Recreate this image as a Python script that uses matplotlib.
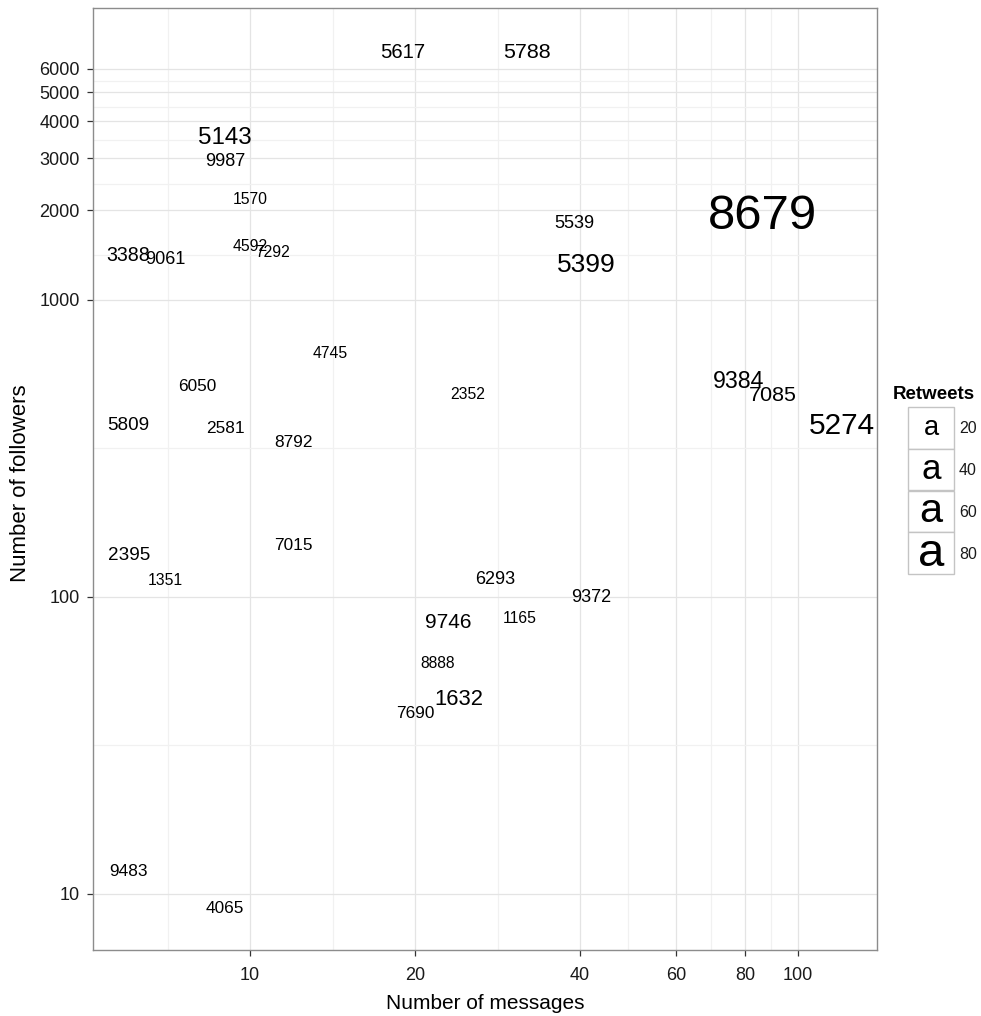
import numpy as np
import matplotlib
matplotlib.use('Agg')
import matplotlib.pyplot as plt
from matplotlib.patches import Rectangle
from matplotlib.ticker import NullFormatter, FixedFormatter, FixedLocator

# ---------------- data ----------------
labels = ['5617', '5788', '5143', '9987', '1570', '3388', '9061', '4592', '7292', '5539',
          '5399', '8679', '4745', '6050', '5809', '2581', '8792', '2352', '2395', '7015',
          '1351', '9746', '9384', '7085', '5274', '6293', '9372', '1165', '8888', '1632',
          '7690', '9483', '4065']
messages = [19, 32, 9, 9, 10, 6, 7, 10, 11, 39,
            41, 86, 14, 8, 6, 9, 12, 25, 6, 12,
            7, 23, 78, 90, 120, 28, 42, 31, 22, 24,
            20, 6, 9]
followers = [6890, 6900, 3568, 2971, 2199, 1429, 1388, 1521, 1452, 1830,
             1338, 1981, 668, 517, 383, 373, 335, 483, 140, 151,
             114, 83, 539, 483, 383, 116, 101, 85, 60, 46,
             41, 12, 9]
retweets = [6, 8, 13, 3, 1, 5, 3, 1, 1, 3,
            18, 86, 1, 2, 4, 2, 2, 1, 4, 2,
            1, 7, 11, 8, 26, 3, 3, 1, 1, 9,
            2, 2, 2]

x_ticks = [10, 20, 40, 60, 80, 100]
y_ticks = [10, 100, 1000, 2000, 3000, 4000, 5000, 6000]
legend_values = [20, 40, 60, 80]
legend_title = 'Retweets'
x_title = 'Number of messages'
y_title = 'Number of followers'

# ---------------- style ----------------
W, H, DPI = 981, 1016, 100
FONT = ['Liberation Sans', 'DejaVu Sans']
plt.rcParams['font.family'] = FONT

R_MIN, R_MAX = 1, 85


def size_px(v):
    return 15.8 + 33 * ((v - R_MIN) / (R_MAX - R_MIN)) ** 0.71


def size_pt(v):
    return size_px(v) * 72.0 / DPI


fig = plt.figure(figsize=(W / DPI, H / DPI), dpi=DPI)
fig.patch.set_facecolor('white')

px_l, px_r, px_t, px_b = 93, 877, 8, 950
ax = fig.add_axes([px_l / W, 1 - px_b / H, (px_r - px_l) / W, (px_b - px_t) / H])
ax.set_xscale('log')
ax.set_yscale('log')

# limits: data range with 5% expansion in log space
lx = np.log10(messages)
ly = np.log10(followers)
ex = 0.05 * (lx.max() - lx.min())
ey = 0.05 * (ly.max() - ly.min())
ax.set_xlim(10 ** (lx.min() - ex), 10 ** (lx.max() + ex))
ax.set_ylim(10 ** (ly.min() - ey), 10 ** (ly.max() + ey))


def minor_breaks(majors, lo, hi):
    b = list(np.log10(majors))
    bd = b[1] - b[0]
    if lo < b[0]:
        b = [b[0] - bd] + b
    if hi > b[-1]:
        b = b + [b[-1] + bd]
    mids = [(a + c) / 2 for a, c in zip(b[:-1], b[1:])]
    return [10 ** m for m in mids if lo <= m <= hi]


xl0, xl1 = lx.min() - ex, lx.max() + ex
yl0, yl1 = ly.min() - ey, ly.max() + ey

ax.xaxis.set_major_locator(FixedLocator(x_ticks))
ax.xaxis.set_major_formatter(FixedFormatter([str(t) for t in x_ticks]))
ax.xaxis.set_minor_locator(FixedLocator(minor_breaks(x_ticks, xl0, xl1)))
ax.xaxis.set_minor_formatter(NullFormatter())
ax.yaxis.set_major_locator(FixedLocator(y_ticks))
ax.yaxis.set_major_formatter(FixedFormatter([str(t) for t in y_ticks]))
ax.yaxis.set_minor_locator(FixedLocator(minor_breaks(y_ticks, yl0, yl1)))
ax.yaxis.set_minor_formatter(NullFormatter())

ax.set_axisbelow(True)
ax.grid(which='major', color='#E4E4E4', lw=0.9)
ax.grid(which='minor', color='#F1F1F1', lw=0.9)
ax.tick_params(which='minor', length=0)
ax.tick_params(which='major', direction='out', length=4.5, width=0.9,
               color='#333333', labelsize=13, labelcolor='#1a1a1a')
ax.tick_params(axis='x', pad=7.5)
ax.tick_params(axis='y', pad=5.0)
for s in ax.spines.values():
    s.set_color('#8C8C8C')
    s.set_linewidth(1.0)

# text marks
for lab, x, y, r in zip(labels, messages, followers, retweets):
    fs = size_pt(r)
    ax.annotate(lab, (x, y), xytext=(0, -0.358 * fs), textcoords='offset points',
                ha='center', va='baseline', fontsize=fs, color='black')

# axis titles
fig.text(485 / W, 1 - 1009 / H, x_title, ha='center', va='baseline',
         fontsize=15, color='black')
fig.text(26 / W, 1 - 483.5 / H, y_title, ha='center', va='baseline',
         rotation=90, rotation_mode='anchor', fontsize=16, color='black')

# legend
def fx(x):
    return x / W


def fy(y):
    return 1 - y / H


fig.text(fx(893), fy(398.5), legend_title, ha='left', va='baseline',
         fontsize=13.5, fontweight='bold', color='black')
key_x0, key_x1 = 908, 954
key_top, key_h = 407, 41.75
for i, v in enumerate(legend_values):
    y0 = key_top + i * key_h
    rect = Rectangle((fx(key_x0), fy(y0 + key_h)), (key_x1 - key_x0) / W, key_h / H,
                     transform=fig.transFigure, facecolor='white',
                     edgecolor='#C4C4C4', lw=1.0)
    fig.add_artist(rect)
    cy = y0 + key_h / 2
    em = size_px(v)
    fig.text(fx((key_x0 + key_x1) / 2), fy(cy + 0.265 * em), 'a', ha='center',
             va='baseline', fontsize=size_pt(v), color='black')
    fig.text(fx(959), fy(cy + 0.358 * 15.5), str(v), ha='left', va='baseline',
             fontsize=11.5, color='#1a1a1a')

fig.savefig('out.png', dpi=DPI, facecolor='white')
